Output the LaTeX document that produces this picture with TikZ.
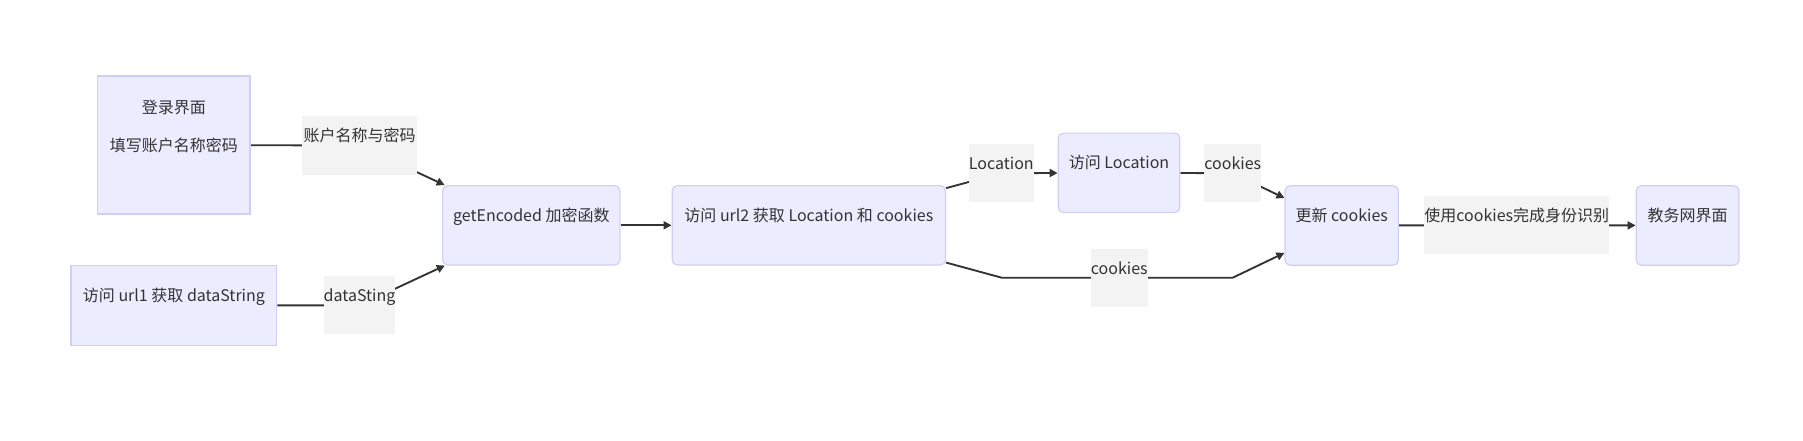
\documentclass[tikz,border=0pt]{standalone}
\usepackage{fontspec}
\setmainfont{Noto Sans CJK SC}
\usepackage{xcolor}
\usepackage{tikz}
\usetikzlibrary{arrows.meta, positioning, calc, backgrounds}

\definecolor{nodefill}{HTML}{ECECFF}
\definecolor{nodeline}{HTML}{CFCFF5}
\definecolor{lblfill}{HTML}{F3F3F3}
\definecolor{ink}{HTML}{333333}

\begin{document}
\begin{tikzpicture}[
    x=0.75pt, y=-0.75pt,
    page/.style={rectangle, draw=nodeline, fill=nodefill, line width=0.9pt, inner sep=0pt, align=center, text=ink, font=\fontsize{12}{14.4}\selectfont, text height=26.6pt, text depth=32.9pt},
    proc/.style={page, rounded corners=3.75pt},
    flow_lbl/.style={rectangle, fill=lblfill, inner sep=0pt, text=ink, font=\fontsize{12}{14.4}\selectfont, text height=19.1pt, text depth=24.6pt},
    flow/.style={-{Triangle[length=6pt,width=6pt]}, line width=1.4pt, ink}
]
    \useasboundingbox (0,0) rectangle (1803,441);

    \node[page, minimum width=114.2pt, text height=27.9pt, text depth=75.6pt] (login) at (173.9,145)
        {\begin{tabular}[t]{@{}c@{}}登录界面\\[14.1pt]填写账户名称密码\end{tabular}};
    \node[page, minimum width=154.3pt] (url1) at (173.9,305.5) {访问 url1 获取 dataString};
    \node[proc, minimum width=133pt] (enc) at (531.3,225.3) {getEncoded 加密函数};
    \node[proc, minimum width=205pt, right=38.25pt of enc] (url2) {访问 url2 获取 Location 和 cookies};
    \node[proc, minimum width=91.1pt] (loc) at (1119,172.8) {访问 Location};
    \node[proc, minimum width=85pt] (upd) at (1341.7,225.5) {更新 cookies};
    \node[proc, minimum width=77pt, right=177.5pt of upd] (jwc) {教务网界面};

    \node[flow_lbl, minimum width=85.8pt] (lacct) at (359.5,145.5) {账户名称与密码};
    \node[flow_lbl, minimum width=51.8pt] (ldata) at (359.5,305.3) {dataSting};
    \node[flow_lbl, minimum width=47pt] (lloc) at (1001.3,173.2) {Location};
    \node[flow_lbl, minimum width=40.5pt] (lck1) at (1232.7,173.2) {cookies};
    \node[flow_lbl, minimum width=40.5pt] (lck2) at (1119.3,277.8) {cookies};
    \node[flow_lbl, minimum width=139pt] (lauth) at (1516.7,225.2) {使用cookies完成身份识别};

    \coordinate (k1) at (1001.7,277.7);
    \coordinate (k2) at (1232.7,277.7);

    \begin{scope}[on background layer]
        \draw[flow] (login) -- (lacct.center) -- (enc);
        \draw[flow] (url1) -- (ldata.center) -- (enc);
        \draw[flow] (enc) -- (url2);
        \draw[flow] (url2) -- (lloc.center) -- (loc);
        \draw[flow] (loc) -- (lck1.center) -- (upd);
        \draw[flow] (url2) -- (k1) -- (lck2.center) -- (k2) -- (upd);
        \draw[flow] (upd) -- (lauth.center) -- (jwc);
    \end{scope}
\end{tikzpicture}
\end{document}
